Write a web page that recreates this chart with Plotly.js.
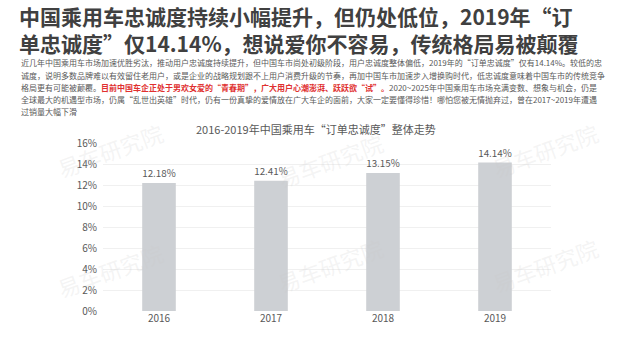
<!DOCTYPE html>
<html><head><meta charset="utf-8">
<script src="https://cdn.plot.ly/plotly-3.0.1.min.js"></script>
<style>html,body{margin:0;padding:0;background:#fff;}#chart{width:630px;height:354px;}</style>
</head><body><div id="chart"></div>
<script>
const years = ['2016', '2017', '2018', '2019'];
const loyalty = [12.18, 12.41, 13.15, 14.14];
const valueLabels = ['12.18%', '12.41%', '13.15%', '14.14%'];

const mainTitle1 = '中国乘用车忠诚度持续小幅提升，但仍处低位，2019年“订';
const mainTitle2 = '单忠诚度”仅14.14%，想说爱你不容易，传统格局易被颠覆';
const body1 = '近几年中国乘用车市场加速优胜劣汰，推动用户忠诚度持续提升，但中国车市尚处初级阶段，用户忠诚度整体偏低，2019年的“订单忠诚度”仅有14.14%。较低的忠';
const body2 = '诚度，说明多数品牌难以有效留住老用户，或是企业的战略规划跟不上用户消费升级的节奏，再加中国车市加速步入增换购时代，低忠诚度意味着中国车市的传统竞争';
const body3a = '格局更有可能被颠覆。';
const body3b = '目前中国车企正处于男欢女爱的“青春期”，广大用户心潮澎湃、跃跃欲“试”。';
const body3c = '2020~2025年中国乘用车市场充满变数、想象与机会，仍是';
const body4 = '全球最大的机遇型市场，仍属“乱世出英雄”时代，仍有一份真挚的爱情放在广大车企的面前，大家一定要懂得珍惜！哪怕您被无情抛弃过，曾在2017~2019年遭遇';
const body5 = '过销量大幅下滑';
const chartTitle = '2016-2019年中国乘用车“订单忠诚度”整体走势';

const W = 630, H = 354, ML = 103, MR = 79, MT = 143, MB = 43;
const PW = W - ML - MR, PH = H - MT - MB;
const px = x => (x - ML) / PW;
const py = y => 1 - (y - MT) / PH;
const FONT = '"Noto Sans CJK SC", "Noto Sans", sans-serif';

function line(text, x, y, size, color, extra) {
  return Object.assign({
    text: text, xref: 'paper', yref: 'paper', x: px(x), y: py(y),
    xanchor: 'left', yanchor: 'middle', showarrow: false, align: 'left',
    font: {family: FONT, size: size, color: color}
  }, extra || {});
}

const annotations = [
  line('<b>' + mainTitle1 + '<br>' + mainTitle2 + '</b>', 17, 30, 21, '#404040'),
  line(body1, 19, 63, 8, '#595959'),
  line(body2, 19, 75, 8, '#595959'),
  line(body3a + '<b><span style="color:#e03030">' + body3b + '</span></b>' + body3c, 19, 87, 8, '#595959'),
  line(body4, 19, 99, 8, '#595959'),
  line(body5, 19, 111, 8, '#595959'),
  {text: chartTitle, xref: 'paper', yref: 'paper', x: px(316), y: py(129), xanchor: 'center', yanchor: 'middle',
   showarrow: false, font: {family: FONT, size: 11, color: '#595959'}}
];

// faint watermark
const wm = [[110, 150], [110, 270], [330, 160], [330, 265], [545, 150], [545, 265]];
wm.forEach(p => annotations.push({
  text: '易车研究院', xref: 'paper', yref: 'paper', x: px(p[0]), y: py(p[1]),
  xanchor: 'center', yanchor: 'middle', showarrow: false, textangle: -20,
  font: {family: FONT, size: 22, color: 'rgba(200,200,200,0.2)'}
}));

const trace = {
  type: 'bar', x: years, y: loyalty, text: valueLabels, textposition: 'outside',
  textfont: {family: FONT, size: 10, color: '#595959'}, cliponaxis: false,
  marker: {color: '#cdd0d4'}, hoverinfo: 'none'
};

const layout = {
  width: W, height: H, margin: {l: ML, r: MR, t: MT, b: MB},
  paper_bgcolor: '#ffffff', plot_bgcolor: '#ffffff', showlegend: false, bargap: 0.7,
  font: {family: FONT, size: 10, color: '#595959'},
  xaxis: {type: 'category', showline: false, ticks: '', showgrid: false, zeroline: false,
          tickfont: {family: FONT, size: 10, color: '#595959'}},
  yaxis: {range: [0, 16], dtick: 2, ticksuffix: '%', showline: false, zeroline: false,
          gridcolor: '#f0f0f0', gridwidth: 1, ticks: '', ticklen: 0, ticklabelstandoff: 5,
          tickfont: {family: FONT, size: 10, color: '#595959'}},
  annotations: annotations
};

Plotly.newPlot('chart', [trace], layout, {displayModeBar: false, staticPlot: true});
</script></body></html>
